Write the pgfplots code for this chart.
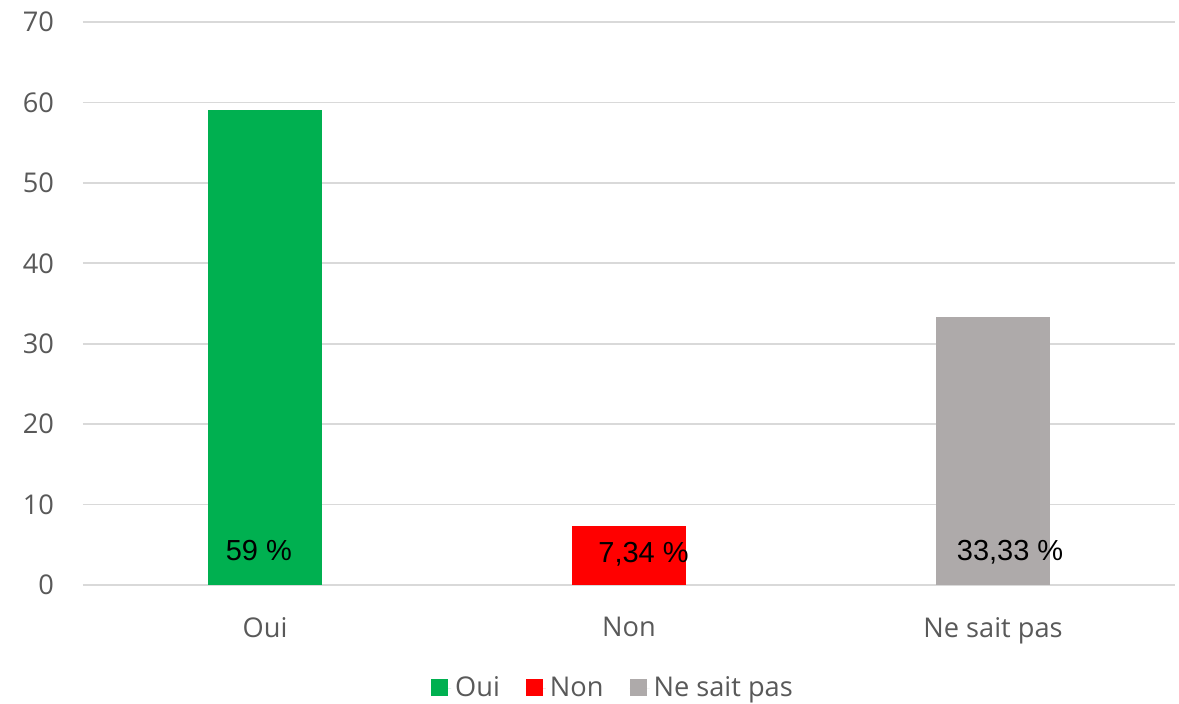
\documentclass[border=0pt]{standalone}
\usepackage{pgfplots}
\pgfplotsset{compat=1.18}
\usepackage{fontspec}
\setmainfont{Open Sans}
\newfontfamily\arialfont{Liberation Sans}
\definecolor{cgreen}{HTML}{00B050}
\definecolor{cred}{HTML}{FF0000}
\definecolor{cgray}{HTML}{AEAAAA}
\definecolor{ctext}{HTML}{595959}
\definecolor{cgrid}{HTML}{D9D9D9}
\begin{document}
\begin{tikzpicture}
\begin{axis}[
  at={(0,0)}, anchor=south west,
  scale only axis,
  width=546pt, height=281.5pt,
  xmin=-0.5, xmax=2.5,
  ymin=0, ymax=70,
  ytick={0,10,...,70},
  xtick={0,1,2},
  xticklabels={Oui,Non,Ne sait pas},
  axis line style={draw=none},
  axis x line*=bottom,
  ymajorgrids,
  grid style={cgrid, line width=0.9pt},
  major tick length=0pt,
  tick style={draw=none},
  /pgf/number format/assume math mode=true,
  ticklabel style={font=\fontsize{13.6}{16}\selectfont, text=ctext},
  yticklabel style={xshift=-11pt},
  xticklabel style={yshift=-12.5pt},
  legend columns=-1,
  legend style={draw=none, at={(0.5,0)}, anchor=center, yshift=-51.5pt, xshift=-7.5pt,
    font=\fontsize{13.6}{16}\selectfont, text=ctext,
    /tikz/every even column/.append style={column sep=11pt}},
  legend image code/.code={\path (0pt,0pt) -- (10pt,0pt);\fill[#1] (0pt,-4pt) rectangle (8.5pt,4.5pt);},
  clip=false,
]
\draw[cgrid, line width=0.9pt] (axis cs:-0.5,0) -- (axis cs:2.5,0);
\addplot[ybar, bar width=57pt, bar shift=0pt, fill=cgreen, draw=none] coordinates {(0,59)};
\addlegendentry{Oui}
\addplot[ybar, bar width=57pt, bar shift=0pt, fill=cred, draw=none] coordinates {(1,7.34)};
\addlegendentry{Non}
\addplot[ybar, bar width=57pt, bar shift=0pt, fill=cgray, draw=none] coordinates {(2,33.33)};
\addlegendentry{Ne sait pas}
\addplot[draw=none, mark=none, forget plot, nodes near coords, point meta=explicit symbolic,
  every node near coord/.style={anchor=base, inner sep=0pt, font=\arialfont\fontsize{14.5}{16}\selectfont, text=black}]
  coordinates {(-0.017,3.0) [59 \%] (1.040,2.75) [7,34 \%] (2.047,3.0) [33,33 \%]};
\end{axis}
\pgfresetboundingbox
\path[use as bounding box] (-41.5pt,-59pt) rectangle (548pt,292.5pt);
\end{tikzpicture}
\end{document}
